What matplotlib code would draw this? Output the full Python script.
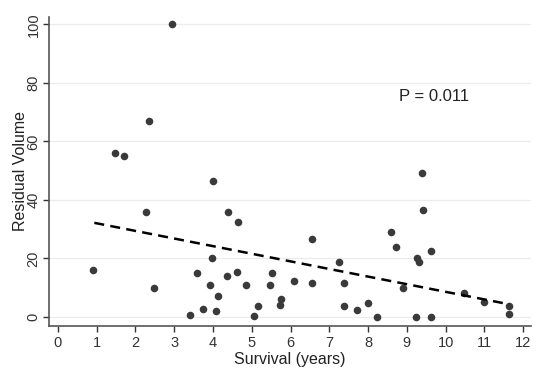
import numpy as np
import matplotlib.pyplot as plt

plt.rcParams['font.family'] = ['Liberation Sans', 'DejaVu Sans']

# Survival (years) and residual volume
survival = [0.90, 2.94, 1.47, 1.70, 2.35, 4.00, 2.26, 2.48, 3.41, 3.60,
            3.74, 3.92, 3.97, 4.07, 4.12, 4.39, 4.37, 4.65, 4.63, 4.84,
            5.05, 5.17, 5.47, 5.51, 5.75, 5.74, 6.08, 6.55, 6.56, 7.24,
            7.38, 7.39, 7.72, 8.00, 8.24, 8.60, 8.72, 8.89, 9.24, 9.25,
            9.32, 9.42, 9.38, 9.61, 9.63, 10.48, 11.00, 11.64, 11.64]
residual = [16.0, 100.0, 56.0, 55.0, 67.0, 46.5, 36.0, 10.0, 0.8, 15.0,
            2.7, 10.8, 20.0, 2.0, 7.3, 36.0, 13.9, 32.4, 15.4, 10.9,
            0.2, 3.6, 11.0, 15.0, 6.1, 4.1, 12.4, 26.5, 11.7, 18.9,
            11.7, 3.9, 2.5, 4.8, 0.1, 29.0, 24.0, 9.8, 0.1, 20.0,
            18.9, 36.7, 49.1, 22.4, 0.1, 8.1, 5.1, 3.8, 0.9]

# fitted line
fit_slope = -2.6
fit_intercept = 34.6
fit_range = [0.94, 11.64]

p_text = "P = 0.011"
xticks = list(range(0, 13))
yticks = [0, 20, 40, 60, 80, 100]

fig = plt.figure(figsize=(5.54, 3.75), dpi=100)
ax = fig.add_axes([0.0884, 0.1307, 0.8700, 0.8243])

ax.scatter(survival, residual, s=30, color='#3a3a3a', zorder=3, linewidths=0)

fx = np.array(fit_range)
ax.plot(fx, fit_intercept + fit_slope * fx, color='black', linestyle=(0, (4, 2.5)),
        linewidth=1.8, zorder=4)

ax.set_xlim(-0.23, 12.2)
ax.set_ylim(-3.07, 102.5)
ax.set_xticks(xticks)
ax.set_yticks(yticks)
ax.tick_params(axis='both', labelsize=10.5, colors='#333333', length=4,
               width=1, direction='out')
ax.tick_params(axis='y', pad=2)
for lab in ax.get_yticklabels():
    lab.set_rotation(90)
    lab.set_va('center')

ax.yaxis.grid(True, color='#ececec', linewidth=0.9)
ax.set_axisbelow(True)
for side in ['top', 'right']:
    ax.spines[side].set_visible(False)
for side in ['left', 'bottom']:
    ax.spines[side].set_color('#555555')
    ax.spines[side].set_linewidth(1.2)

ax.set_xlabel("Survival (years)", fontsize=11.5, color='#222222', labelpad=1)
ax.set_ylabel("Residual Volume", fontsize=11.5, color='#222222', labelpad=-1)

ax.text(8.8, 75.2, p_text, fontsize=12, color='#222222', va='center')

fig.savefig("out.png", dpi=100)
